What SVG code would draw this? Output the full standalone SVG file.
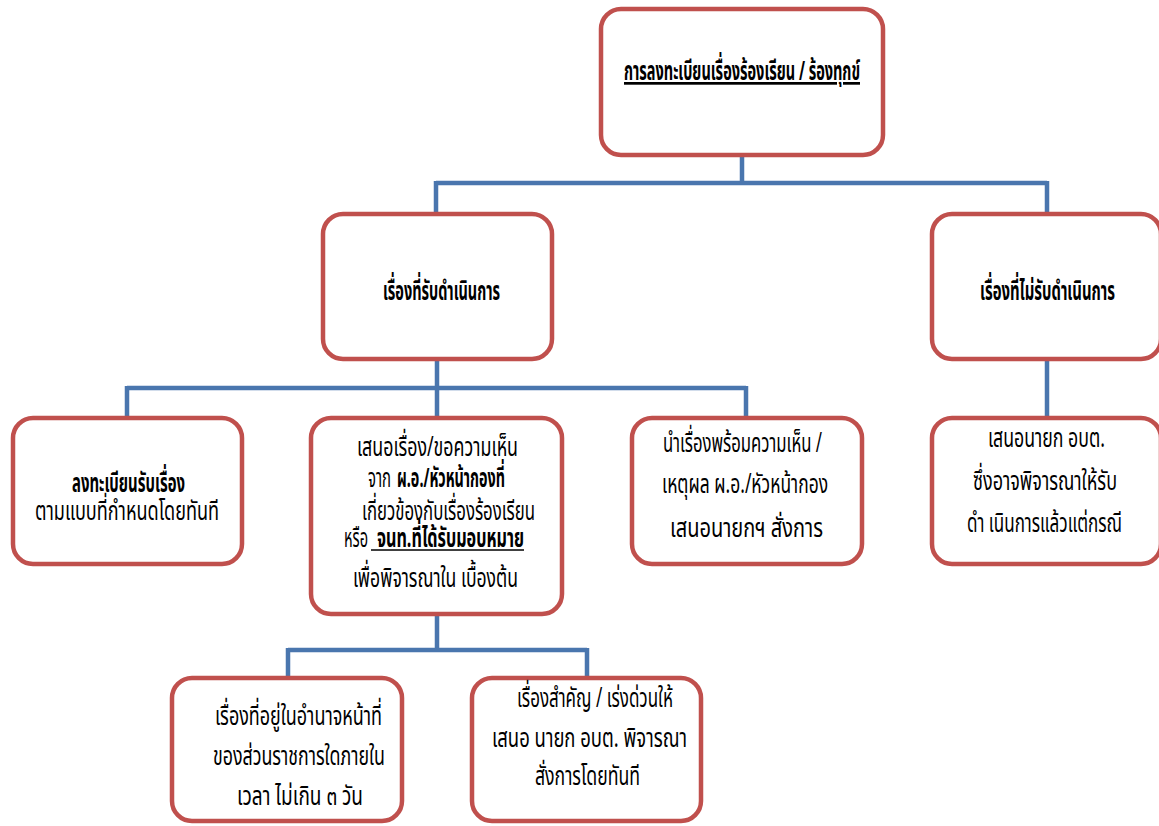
<svg xmlns="http://www.w3.org/2000/svg" width="1159" height="826" viewBox="0 0 1159 826">
<style>
.box{fill:#ffffff;stroke:#C0504D;stroke-width:4.5}
.con{fill:none;stroke:#4A76AE;stroke-width:4.5}
text{font-family:"Noto Sans Thai","Noto Sans","DejaVu Sans",sans-serif;font-size:27px;fill:#000000}
.b{font-weight:bold}
.u{text-decoration:underline}
</style>
<rect width="1159" height="826" fill="#ffffff"/>
<g id="connectors">
<path class="con" d="M742 155V183M436 183H1047M436 181V213M1047 181V213"/>
<path class="con" d="M437 359V388M127 388H746M127 386V418M437 386V418M746 386V418"/>
<path class="con" d="M1047 359V418"/>
<path class="con" d="M437 614V650M288 650H587M288 648V677M587 648V677"/>
</g>
<g id="n-top">
<rect class="box" x="601" y="9" width="282" height="146" rx="20"/>
<text class="b u" x="624" y="80" textLength="236" lengthAdjust="spacingAndGlyphs">การลงทะเบียนเรื่องร้องเรียน / ร้องทุกข์</text>
</g>
<g id="n-accept">
<rect class="box" x="323" y="214" width="229" height="145" rx="20"/>
<text class="b" x="383" y="300" textLength="117" lengthAdjust="spacingAndGlyphs">เรื่องที่รับดำเนินการ</text>
</g>
<g id="n-reject">
<rect class="box" x="932" y="214" width="229" height="145" rx="20"/>
<text class="b" x="980" y="300" textLength="135" lengthAdjust="spacingAndGlyphs">เรื่องที่ไม่รับดำเนินการ</text>
</g>
<g id="n-register">
<rect class="box" x="13" y="418" width="229" height="146" rx="20"/>
<text class="b" x="72" y="492" textLength="113" lengthAdjust="spacingAndGlyphs">ลงทะเบียนรับเรื่อง</text>
<text x="35" y="520" textLength="184" lengthAdjust="spacingAndGlyphs">ตามแบบที่กำหนดโดยทันที</text>
</g>
<g id="n-propose">
<rect class="box" x="311" y="418" width="251" height="196" rx="20"/>
<text x="357" y="456" textLength="161" lengthAdjust="spacingAndGlyphs">เสนอเรื่อง/ขอความเห็น</text>
<text x="368" y="487" textLength="23" lengthAdjust="spacingAndGlyphs">จาก</text>
<text class="b" x="397" y="487" textLength="108" lengthAdjust="spacingAndGlyphs">ผ.อ./หัวหน้ากองที่</text>
<text x="362" y="520" textLength="173" lengthAdjust="spacingAndGlyphs">เกี่ยวข้องกับเรื่องร้องเรียน</text>
<text x="344" y="547" textLength="24" lengthAdjust="spacingAndGlyphs">หรือ</text>
<line x1="371" y1="550" x2="524" y2="550" stroke="#000" stroke-width="1.6"/>
<text class="b" x="377" y="547" textLength="147" lengthAdjust="spacingAndGlyphs">จนท.ที่ได้รับมอบหมาย</text>
<text x="353" y="587" textLength="165" lengthAdjust="spacingAndGlyphs">เพื่อพิจารณาใน เบื้องต้น</text>
</g>
<g id="n-forward">
<rect class="box" x="632" y="418" width="230" height="146" rx="20"/>
<text x="663" y="452" textLength="159" lengthAdjust="spacingAndGlyphs">นำเรื่องพร้อมความเห็น /</text>
<text x="662" y="493" textLength="166" lengthAdjust="spacingAndGlyphs">เหตุผล ผ.อ./หัวหน้ากอง</text>
<text x="670" y="537" textLength="153" lengthAdjust="spacingAndGlyphs">เสนอนายกฯ สั่งการ</text>
</g>
<g id="n-mayor">
<rect class="box" x="932" y="418" width="229" height="146" rx="20"/>
<text x="988" y="447" textLength="117" lengthAdjust="spacingAndGlyphs">เสนอนายก อบต.</text>
<text x="973" y="490" textLength="144" lengthAdjust="spacingAndGlyphs">ซึ่งอาจพิจารณาให้รับ</text>
<text x="967" y="532" textLength="155" lengthAdjust="spacingAndGlyphs">ดำ เนินการแล้วแต่กรณี</text>
</g>
<g id="n-authority">
<rect class="box" x="172" y="678" width="230" height="143" rx="20"/>
<text x="215" y="725" textLength="167" lengthAdjust="spacingAndGlyphs">เรื่องที่อยู่ในอำนาจหน้าที่</text>
<text x="213" y="765" textLength="172" lengthAdjust="spacingAndGlyphs">ของส่วนราชการใดภายใน</text>
<text x="237" y="805" textLength="126" lengthAdjust="spacingAndGlyphs">เวลา ไม่เกิน ๓ วัน</text>
</g>
<g id="n-urgent">
<rect class="box" x="472" y="678" width="229" height="143" rx="20"/>
<text x="517" y="707" textLength="156" lengthAdjust="spacingAndGlyphs">เรื่องสำคัญ / เร่งด่วนให้</text>
<text x="492" y="747" textLength="195" lengthAdjust="spacingAndGlyphs">เสนอ นายก อบต. พิจารณา</text>
<text x="535" y="785" textLength="105" lengthAdjust="spacingAndGlyphs">สั่งการโดยทันที</text>
</g>
</svg>
